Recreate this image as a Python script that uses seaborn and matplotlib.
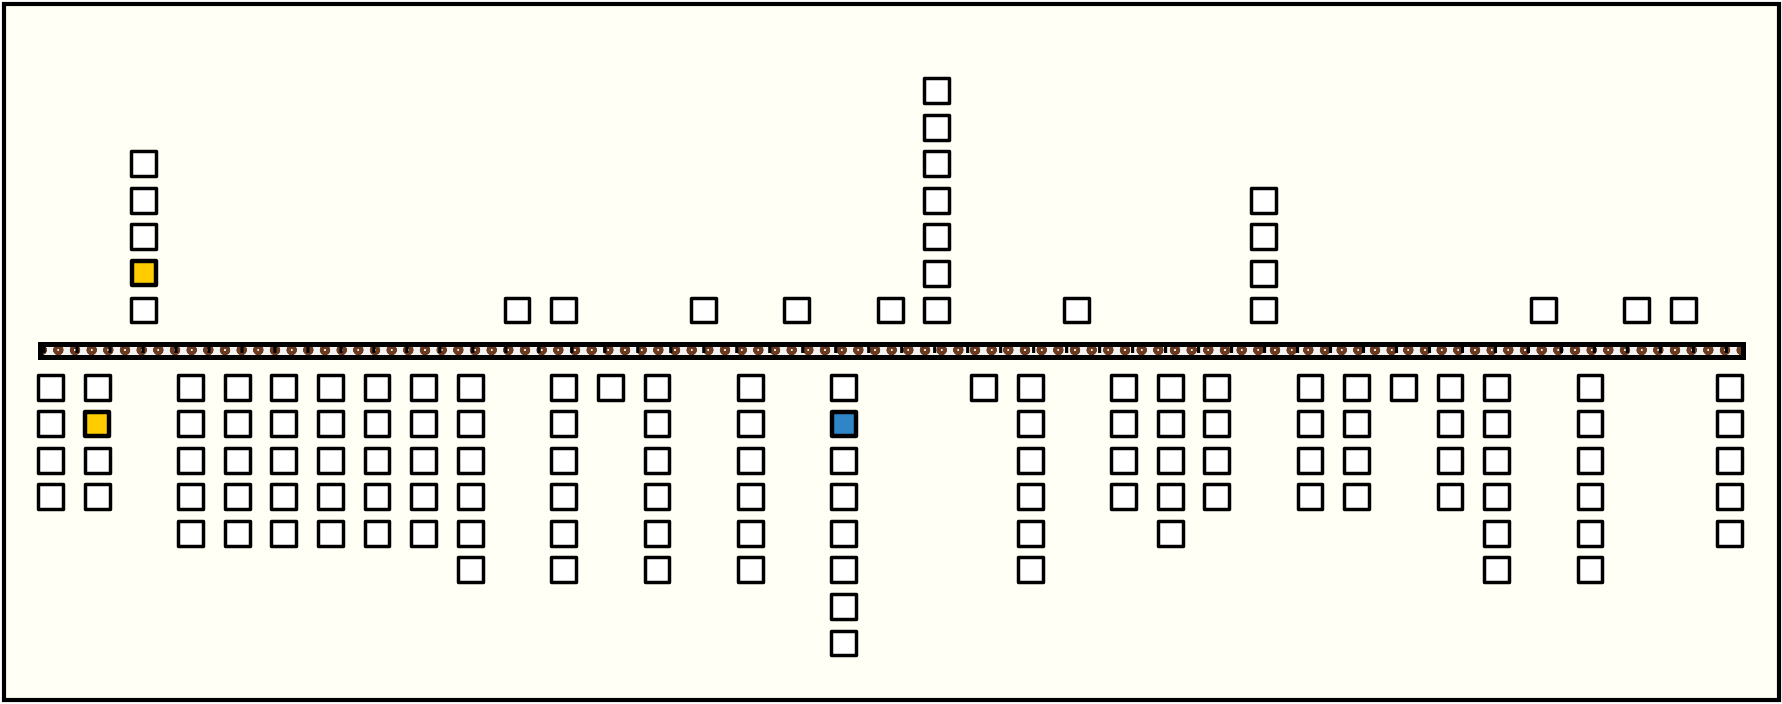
import numpy as np
import pandas as pd
import matplotlib
matplotlib.use("Agg")
import matplotlib.pyplot as plt
from matplotlib.patches import Rectangle
import seaborn as sns

# ---------------- data ----------------
columns = list(range(37))
above_counts = [0, 0, 5, 0, 0, 0, 0, 0, 0, 0, 1, 1, 0, 0, 1, 0, 1, 0, 1, 7,
                0, 0, 1, 0, 0, 0, 4, 0, 0, 0, 0, 0, 1, 0, 1, 1, 0]
below_counts = [4, 4, 0, 5, 5, 5, 5, 5, 5, 6, 0, 6, 1, 6, 0, 6, 0, 8, 0, 0,
                1, 6, 0, 4, 5, 4, 0, 4, 4, 1, 4, 6, 0, 6, 0, 0, 5]
# (column, side, row, state)
highlight_cols = [2, 1, 17]
highlight_sides = ["above", "below", "below"]
highlight_rows = [2, 2, 2]
highlight_states = ["gold", "gold", "blue"]

palette = {"plain": "#FFFFFF", "gold": "#FFCC00", "blue": "#2E86C6"}
bg = "#FFFFF5"

# ---------------- build table ----------------
ABOVE_GAP = 0.11
records = []
hl = {(c, s, r): st for c, s, r, st in zip(highlight_cols, highlight_sides,
                                           highlight_rows, highlight_states)}
for c, na, nb in zip(columns, above_counts, below_counts):
    for r in range(1, na + 1):
        records.append(dict(col=c, level=r + ABOVE_GAP,
                            state=hl.get((c, "above", r), "plain")))
    for r in range(1, nb + 1):
        records.append(dict(col=c, level=-r,
                            state=hl.get((c, "below", r), "plain")))
df = pd.DataFrame(records)

# ---------------- figure ----------------
sns.set_theme(style="white")
plt.rcParams["hatch.linewidth"] = 2.6
fig = plt.figure(figsize=(17.83, 7.04), dpi=100)
fig.patch.set_facecolor("white")
ax = fig.add_axes([0, 0, 1, 1])
ax.set_facecolor("none")

# background inside frame + frame
fig.patches.append(Rectangle((4 / 1783, 4 / 704), 1775 / 1783, 696 / 704,
                             transform=fig.transFigure, facecolor=bg,
                             edgecolor="black", linewidth=3.0, zorder=-1))

# ---------------- central bar ----------------
x_left, x_right = -0.235, 36.27
half_h = 0.19
ax.add_patch(Rectangle((x_left, -half_h), x_right - x_left, 2 * half_h,
                       facecolor="#F2F2F2", edgecolor="#6B3A1F", linewidth=0,
                       hatch="o", zorder=2))
ax.plot([x_left + 0.05, x_right - 0.05], [0.035, 0.035], color="black",
        linewidth=5, linestyle=(0, (0.45, 4.3)),
        dash_capstyle="butt", zorder=3)
ax.add_patch(Rectangle((x_left, -half_h), x_right - x_left, 2 * half_h,
                       facecolor="none", edgecolor="black", linewidth=3.6,
                       zorder=4))

# ---------------- squares ----------------
plain = df[df.state == "plain"]
special = df[df.state != "plain"]
sns.scatterplot(data=plain, x="col", y="level", hue="state", palette=palette,
                marker="s", s=320, edgecolor="black", linewidth=2.5,
                legend=False, ax=ax, zorder=5)
sns.scatterplot(data=special, x="col", y="level", hue="state", palette=palette,
                marker="s", s=300, edgecolor="black", linewidth=3.2,
                legend=False, ax=ax, zorder=6)
ax.set_xlim(-1.0825, 37.138)
ax.set_ylim(-9.67, 9.59)
ax.axis("off")

fig.savefig("out.png", dpi=100, facecolor=fig.get_facecolor())
